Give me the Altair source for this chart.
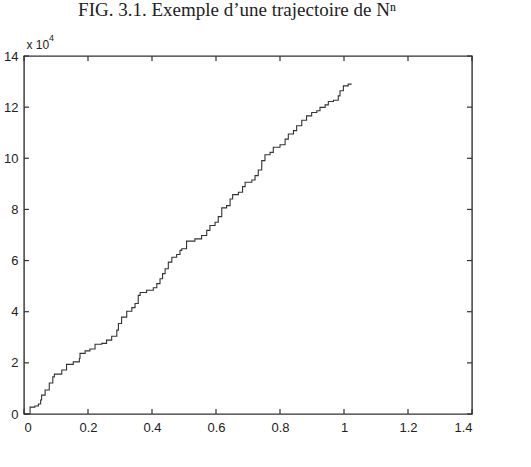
import altair as alt
import pandas as pd

# Trajectory of N^n (y in units of 1e4)
t_vals = [0.0, 0.019, 0.034, 0.045, 0.052, 0.055, 0.066, 0.079, 0.090, 0.095,
          0.118, 0.133, 0.154, 0.173, 0.175, 0.191, 0.206, 0.222, 0.243, 0.258,
          0.274, 0.290, 0.295, 0.305, 0.321, 0.337, 0.347, 0.357, 0.363, 0.383,
          0.404, 0.415, 0.425, 0.433, 0.441, 0.451, 0.462, 0.477, 0.4875, 0.493,
          0.508, 0.534, 0.555, 0.571, 0.581, 0.597, 0.607, 0.618, 0.633, 0.644,
          0.652, 0.670, 0.683, 0.691, 0.712, 0.722, 0.732, 0.743, 0.753, 0.769,
          0.779, 0.800, 0.816, 0.826, 0.842, 0.852, 0.868, 0.883, 0.899, 0.915,
          0.925, 0.941, 0.951, 0.967, 0.982, 0.9875, 0.998, 1.013, 1.024]
n_vals = [0.0, 0.27, 0.31, 0.39, 0.55, 0.74, 0.94, 1.21, 1.45, 1.56,
          1.72, 1.94, 2.04, 2.17, 2.37, 2.47, 2.54, 2.73, 2.76, 2.89,
          3.04, 3.28, 3.54, 3.79, 4.02, 4.16, 4.32, 4.64, 4.75, 4.84,
          4.94, 5.10, 5.29, 5.49, 5.68, 5.94, 6.13, 6.24, 6.40, 6.46,
          6.76, 6.85, 6.98, 7.18, 7.37, 7.50, 7.72, 8.06, 8.15, 8.41,
          8.58, 8.67, 8.89, 9.06, 9.15, 9.32, 9.54, 9.91, 10.14, 10.23,
          10.43, 10.53, 10.75, 10.95, 11.08, 11.27, 11.49, 11.66, 11.79, 11.86,
          11.99, 12.09, 12.22, 12.27, 12.44, 12.64, 12.83, 12.90, 12.90]

x_ticks = [0, 0.2, 0.4, 0.6, 0.8, 1.0, 1.2, 1.4]
y_ticks = [0, 2, 4, 6, 8, 10, 12, 14]
exponent = ["4"]

W, H = 448, 358
FONT = "Liberation Sans"
INK = "#222222"

df = pd.DataFrame({"t": t_vals, "n": n_vals})
xt = pd.DataFrame({"t": x_ticks})
yt = pd.DataFrame({"n": y_ticks})
ex = pd.DataFrame({"s": exponent})

xscale = alt.Scale(domain=[0, 1.4], nice=False, zero=False)
yscale = alt.Scale(domain=[0, 14], nice=False, zero=False)

line = alt.Chart(df).mark_line(color="#333333", strokeWidth=1.1, interpolate="step-after").encode(
    x=alt.X("t:Q", scale=xscale,
            axis=alt.Axis(values=x_ticks, format="~g", ticks=False, domain=False, grid=False,
                          labelFont=FONT, labelFontSize=13, labelColor=INK,
                          labelPadding=7, title=None)),
    y=alt.Y("n:Q", scale=yscale,
            axis=alt.Axis(values=y_ticks, format="~g", ticks=False, domain=False, grid=False,
                          labelFont=FONT, labelFontSize=13, labelColor=INK,
                          labelPadding=6, title="x 10", titleAngle=0, titleAlign="left",
                          titleBaseline="bottom", titleX=2, titleY=-5, titleFont=FONT,
                          titleFontSize=12, titleFontWeight="normal", titleColor=INK)),
)

exp_text = alt.Chart(ex).mark_text(font=FONT, fontSize=9, color=INK, align="left",
                                   baseline="bottom").encode(
    text="s:N", x=alt.value(25), y=alt.value(-13))

tick_style = dict(color="#333333", strokeWidth=1.2)
bottom_ticks = alt.Chart(xt).mark_rule(**tick_style).encode(
    x=alt.X("t:Q", scale=xscale), y=alt.value(H), y2=alt.value(H - 5))
top_ticks = alt.Chart(xt).mark_rule(**tick_style).encode(
    x=alt.X("t:Q", scale=xscale), y=alt.value(0), y2=alt.value(5))
left_ticks = alt.Chart(yt).mark_rule(**tick_style).encode(
    y=alt.Y("n:Q", scale=yscale), x=alt.value(0), x2=alt.value(5))
right_ticks = alt.Chart(yt).mark_rule(**tick_style).encode(
    y=alt.Y("n:Q", scale=yscale), x=alt.value(W), x2=alt.value(W - 5))

chart = alt.layer(line, bottom_ticks, top_ticks, left_ticks, right_ticks, exp_text).properties(
    width=W, height=H,
    title=alt.TitleParams("FIG. 3.1. Exemple d’une trajectoire de Nⁿ", font="Liberation Serif",
                          fontSize=19, fontWeight="normal", color=INK,
                          anchor="middle", dx=-11, offset=14),
    autosize=alt.AutoSizeParams(type="none"),
    padding={"left": 24, "top": 56, "right": 59, "bottom": 53},
).configure(background="white").configure_view(stroke="#333333", strokeWidth=1.4)

chart.save("out.html", embed_options={"renderer": "svg", "actions": False})
